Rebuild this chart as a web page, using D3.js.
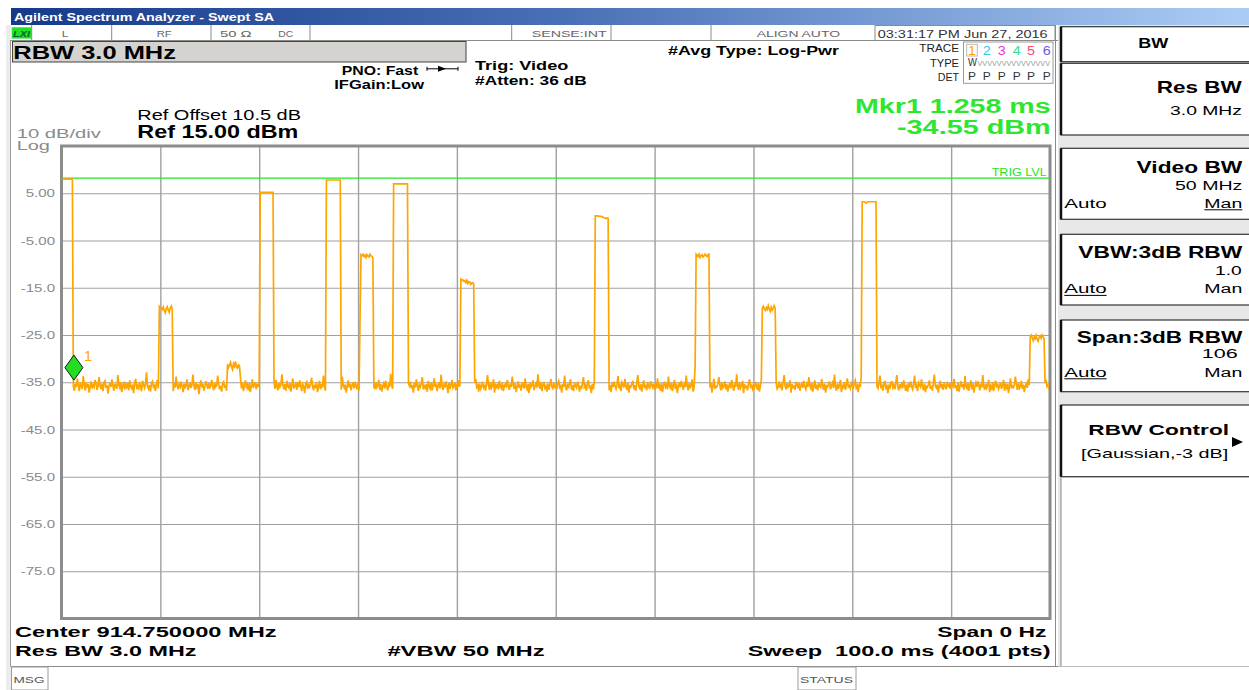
<!DOCTYPE html>
<html><head><meta charset="utf-8">
<script src="https://cdn.jsdelivr.net/npm/d3@7"></script>
<style>
html,body{margin:0;padding:0;background:#fff;overflow:hidden}
svg{display:block}
text{font-family:"Liberation Sans",Arial,sans-serif}
</style></head><body>
<svg id="c" width="1249" height="690"></svg>
<script>
// ---------------- DATA ----------------
const sweepMs = 100;            // 0 Hz span, 100 ms sweep
const samplesPerMs = 10;
const refLevel = 15;            // dBm
const dbPerDiv = 10;
const divisions = 10;
const yTickValues = [5, -5, -15, -25, -35, -45, -55, -65, -75];
const yTickLabels = ["5.00", "-5.00", "-15.0", "-25.0", "-35.0", "-45.0", "-55.0", "-65.0", "-75.0"];
const xGridMs = [10, 20, 30, 40, 50, 60, 70, 80, 90];
const trigLevel = 8.2;
const markerTime = 1.258;       // ms
const markerLevel = -34.55;     // dBm

// bursts: start / end (ms) and the tops read along each burst (dBm)
const pulseStartMs = [0, 9.9, 16.8, 20.1, 26.8, 30.2, 33.6, 40.4, 54.0, 64.1, 70.9, 81.0, 98.0];
const pulseEndMs   = [1.1, 11.2, 18.0, 21.4, 28.2, 31.5, 35.0, 41.7, 55.3, 65.5, 72.2, 82.4, 99.4];
const pulseTops = [
  [8.0],
  [-19.0,-19.3,-19.2,-19.6,-19.1,-19.8,-20.3,-19.4,-19.0,-19.7,-20.2,-19.3,-18.9,-19.5],
  [-31.2,-31.9,-31.4,-30.8,-31.7,-32.3,-31.1,-31.6,-30.6,-31.8,-32.0,-31.3,-31.5],
  [5.2],
  [7.8],
  [-21.3,-8.0,-8.2,-7.9,-8.4,-8.1,-8.6,-8.0,-8.3,-8.5,-7.9,-8.2,-8.4,-8.6],
  [7.0],
  [-13.2,-13.4,-13.3,-13.6,-13.5,-13.9,-13.4,-14.1,-13.7,-13.8,-14.3,-14.0,-13.9,-14.2],
  [0.2,0.2,0.2,0.2,0.1,0.1,0.1,0.0,-0.1,-0.2,-0.3,-0.3,-0.2,-0.3],
  [-31.6,-7.9,-8.1,-8.4,-7.9,-8.6,-8.2,-8.0,-8.5,-8.3,-7.9,-8.1,-8.4,-8.0,-7.9],
  [-19.3,-18.9,-19.4,-19.8,-19.2,-19.6,-18.8,-19.5,-20.0,-19.1,-19.7,-19.3,-18.8,-19.4],
  [3.2,3.2,3.2,3.1,2.9,3.1,3.2,3.2,3.2,3.2,3.2,3.2,3.2,3.2,3.2],
  [-25.3,-25.0,-25.6,-26.2,-25.4,-25.8,-25.1,-25.9,-26.3,-25.5,-25.2,-25.7,-25.0,-25.4,-25.8]
];

// noise floor read along the sweep, one value per 0.1 ms (dBm)
const noiseDbm = [
-35.4,-36.1,-35.8,-36.6,-35.2,-34.9,-36.3,-35.7,-37.0,-35.5,-36.2,-34.6,-35.9,-36.8,-35.3,-36.0,-34.2,-35.6,-36.9,-35.1,-35.8,-36.4,-33.7,-35.5,-36.7,-35.0,-36.1,-35.4,-37.2,-35.9,-34.8,-36.3,-35.6,-36.0,-34.5,-35.2,-36.6,-35.8,-33.9,-35.7,-36.5,-35.3,-36.9,-35.0,-34.7,-36.2,-35.6,-37.4,-35.9,-35.1,
-36.0,-34.4,-35.7,-36.8,-35.3,-35.9,-36.4,-33.5,-35.6,-36.2,-35.0,-37.1,-35.8,-34.9,-36.5,-35.4,-36.0,-35.2,-36.7,-34.6,-35.9,-36.3,-35.5,-37.3,-35.1,-34.3,-36.1,-35.7,-36.6,-35.0,-35.8,-36.9,-34.7,-35.5,-36.2,-35.3,-32.9,-35.9,-36.4,-35.6,-37.0,-35.2,-34.8,-36.0,-35.7,-36.8,-35.4,-34.5,-36.3,-35.8,
-35.1,-36.6,-35.9,-34.1,-35.6,-36.2,-35.3,-37.2,-35.8,-35.0,-36.4,-34.7,-35.5,-36.9,-35.2,-36.1,-33.8,-35.7,-36.5,-35.4,-36.0,-34.9,-35.8,-37.1,-35.3,-36.3,-35.6,-34.4,-36.7,-35.9,-35.1,-36.2,-35.5,-33.4,-35.8,-36.6,-35.0,-36.0,-35.4,-37.5,-35.7,-34.6,-36.1,-35.3,-36.8,-35.9,-34.8,-35.5,-36.4,-35.2,
-36.3,-35.6,-34.5,-35.9,-36.7,-35.1,-36.0,-35.7,-33.6,-35.4,-36.5,-35.8,-37.0,-35.2,-34.9,-36.2,-35.5,-36.8,-35.0,-34.3,-35.9,-36.4,-35.6,-37.3,-35.3,-36.1,-34.7,-35.8,-36.6,-35.4,-35.9,-33.9,-36.3,-35.1,-36.9,-35.7,-34.6,-36.0,-35.5,-36.7,-35.2,-37.1,-35.8,-34.4,-36.2,-35.6,-35.0,-36.5,-35.3,-36.0,
-34.8,-35.9,-36.6,-35.4,-33.7,-35.7,-36.3,-35.1,-36.9,-35.6,-34.9,-36.1,-35.3,-37.2,-35.8,-35.0,-36.4,-34.5,-35.9,-36.7,-35.2,-36.0,-35.5,-33.3,-35.7,-36.5,-35.4,-36.8,-34.7,-35.9,-36.2,-35.1,-37.0,-35.6,-34.2,-36.3,-35.8,-35.3,-36.6,-35.0,-36.1,-34.6,-35.7,-36.9,-35.4,-35.9,-37.3,-35.2,-34.9,-36.4,
-35.6,-36.0,-35.3,-34.0,-35.8,-36.7,-35.5,-36.2,-35.1,-37.1,-35.9,-34.7,-36.5,-35.4,-36.1,-33.6,-35.7,-36.8,-35.2,-35.9,-36.3,-34.8,-35.6,-37.0,-35.3,-36.4,-35.0,-34.4,-36.0,-35.8,-36.9,-35.4,-35.1,-36.6,-33.8,-35.7,-36.2,-35.5,-37.2,-35.9,-34.6,-36.1,-35.3,-36.7,-35.6,-35.0,-36.3,-34.9,-35.8,-36.5,
-35.2,-36.8,-35.7,-34.3,-36.0,-35.5,-36.4,-35.1,-37.3,-35.8,-34.8,-36.2,-35.6,-36.9,-35.3,-33.5,-35.9,-36.5,-35.0,-36.1,-35.7,-34.5,-36.6,-35.4,-37.0,-35.8,-35.2,-36.3,-34.7,-35.9,-36.7,-35.5,-36.0,-33.2,-35.6,-36.4,-35.1,-36.9,-35.8,-34.6,-36.2,-35.3,-37.1,-35.7,-35.0,-36.5,-35.4,-34.1,-36.0,-35.9,
-36.6,-35.3,-35.8,-34.9,-36.3,-35.6,-37.2,-35.0,-36.1,-34.4,-35.7,-36.8,-35.5,-36.0,-35.2,-33.9,-36.5,-35.8,-36.2,-35.4,-37.0,-34.7,-35.9,-36.4,-35.1,-36.7,-35.6,-34.2,-36.0,-35.3,-36.9,-35.7,-35.0,-36.3,-33.4,-35.8,-36.6,-35.5,-36.1,-34.8,-35.9,-37.3,-35.2,-36.4,-35.6,-34.5,-36.2,-35.8,-35.1,-36.7,
-35.4,-36.0,-34.6,-35.9,-36.5,-35.2,-37.1,-35.7,-34.8,-36.3,-35.5,-36.9,-35.0,-33.7,-35.8,-36.2,-35.4,-36.7,-35.1,-34.3,-36.0,-35.6,-37.0,-35.3,-36.4,-35.9,-34.9,-36.1,-35.5,-36.8,-35.2,-33.5,-35.7,-36.6,-35.0,-36.2,-35.8,-34.4,-37.2,-35.6,-36.0,-35.3,-36.5,-34.7,-35.9,-36.3,-35.1,-36.9,-35.7,-35.4,
-36.1,-34.5,-35.8,-36.6,-35.3,-36.0,-33.8,-35.6,-36.4,-35.2,-37.1,-35.9,-34.8,-36.2,-35.5,-36.8,-35.0,-35.7,-36.3,-34.2,-35.9,-36.5,-35.4,-37.3,-35.1,-36.0,-35.6,-34.6,-36.7,-35.8,-35.2,-36.1,-33.3,-35.7,-36.4,-35.0,-36.9,-35.5,-34.9,-36.2,-35.8,-37.0,-35.3,-36.6,-35.6,-34.3,-35.9,-36.3,-35.1,-36.0,
-35.7,-36.5,-35.2,-34.7,-36.1,-35.8,-37.2,-35.4,-36.0,-33.6,-35.9,-36.7,-35.3,-36.3,-35.0,-34.4,-36.6,-35.6,-36.9,-35.1,-35.8,-36.2,-34.9,-35.5,-37.0,-35.7,-36.4,-35.2,-33.9,-36.0,-35.6,-36.8,-35.3,-34.6,-36.1,-35.9,-37.3,-35.4,-36.5,-35.0,-34.8,-36.3,-35.7,-36.0,-35.2,-33.4,-35.8,-36.6,-35.5,-36.9,
-35.3,-36.2,-34.5,-35.9,-36.7,-35.6,-37.1,-35.1,-36.0,-34.9,-35.8,-36.4,-35.4,-33.7,-36.3,-35.7,-36.9,-35.0,-35.5,-36.1,-34.3,-35.9,-36.6,-35.2,-37.2,-35.8,-36.0,-35.3,-34.7,-36.5,-35.6,-36.8,-35.1,-33.5,-35.9,-36.3,-35.4,-37.0,-35.7,-34.6,-36.2,-35.5,-36.7,-35.0,-35.8,-36.4,-34.8,-35.6,-36.1,-35.3,
-36.6,-35.4,-35.9,-34.2,-36.3,-35.7,-36.8,-35.2,-37.1,-35.6,-34.9,-36.0,-35.5,-36.5,-33.8,-35.8,-36.2,-35.1,-36.9,-35.6,-34.5,-36.4,-35.3,-37.3,-35.9,-35.0,-36.1,-34.7,-35.7,-36.6,-35.4,-36.0,-33.6,-35.8,-36.7,-35.2,-36.3,-35.5,-34.4,-37.0,-35.9,-36.2,-35.1,-36.8,-35.6,-34.8,-36.0,-35.4,-36.5,-35.7,
-35.0,-36.3,-35.8,-34.6,-36.9,-35.5,-36.1,-35.2,-37.2,-35.7,-34.3,-36.4,-35.9,-36.0,-35.3,-33.9,-35.6,-36.7,-35.1,-36.2,-35.8,-34.8,-36.5,-35.4,-37.0,-35.9,-35.2,-36.3,-34.5,-35.7,-36.8,-35.5,-36.0,-33.3,-35.8,-36.6,-35.0,-36.2,-35.6,-34.7,-37.3,-35.4,-36.1,-35.9,-36.7,-35.3,-34.4,-36.0,-35.7,-36.4,
-35.5,-36.1,-34.9,-35.8,-36.6,-35.2,-37.0,-35.7,-34.5,-36.3,-35.4,-36.8,-35.9,-33.7,-35.6,-36.2,-35.1,-36.9,-35.8,-34.4,-36.0,-35.5,-37.1,-35.3,-36.4,-35.9,-34.8,-36.2,-35.6,-36.7,-35.0,-33.5,-35.8,-36.5,-35.2,-36.0,-35.7,-34.6,-37.2,-35.4,-36.1,-35.9,-36.6,-34.9,-35.5,-36.3,-35.1,-36.8,-35.6,-35.3,
-36.2,-34.7,-35.9,-36.5,-35.4,-36.0,-33.9,-35.7,-36.3,-35.1,-37.0,-35.8,-34.6,-36.4,-35.5,-36.7,-35.2,-35.9,-36.1,-34.3,-35.6,-36.6,-35.3,-37.2,-35.8,-36.0,-35.4,-34.8,-36.5,-35.7,-35.1,-36.2,-33.4,-35.9,-36.8,-35.3,-36.4,-35.6,-34.5,-37.1,-35.8,-36.1,-35.0,-36.6,-35.5,-34.2,-36.0,-35.7,-36.3,-35.2,
-35.8,-36.4,-35.1,-34.6,-36.2,-35.7,-37.1,-35.3,-36.0,-33.8,-35.9,-36.6,-35.4,-36.3,-35.0,-34.5,-36.7,-35.6,-36.9,-35.2,-35.8,-36.1,-34.8,-35.5,-37.0,-35.9,-36.3,-35.1,-33.6,-36.0,-35.7,-36.8,-35.3,-34.7,-36.2,-35.8,-37.3,-35.5,-36.4,-35.0,-34.9,-36.1,-35.6,-36.5,-35.2,-33.5,-35.9,-36.7,-35.4,-36.0,
-35.4,-36.3,-34.6,-35.8,-36.8,-35.5,-37.0,-35.2,-36.1,-34.8,-35.9,-36.5,-35.3,-33.6,-36.2,-35.7,-36.9,-35.1,-35.6,-36.0,-34.4,-35.8,-36.7,-35.3,-37.1,-35.9,-36.1,-35.4,-34.6,-36.4,-35.7,-36.8,-35.0,-33.4,-35.8,-36.2,-35.5,-37.2,-35.6,-34.7,-36.3,-35.4,-36.6,-35.1,-35.9,-36.5,-34.9,-35.7,-36.0,-35.2,
-36.5,-35.3,-35.8,-34.3,-36.2,-35.6,-36.9,-35.1,-37.0,-35.7,-34.8,-36.1,-35.4,-36.6,-33.7,-35.9,-36.3,-35.2,-36.8,-35.5,-34.6,-36.5,-35.2,-37.2,-35.8,-35.1,-36.0,-34.8,-35.6,-36.7,-35.3,-36.1,-33.5,-35.9,-36.6,-35.3,-36.2,-35.6,-34.5,-37.1,-35.8,-36.3,-35.0,-36.9,-35.5,-34.7,-36.1,-35.3,-36.4,-35.8,
-35.1,-36.4,-35.7,-34.5,-36.8,-35.6,-36.2,-35.3,-37.3,-35.8,-34.2,-36.3,-35.8,-36.1,-35.4,-33.8,-35.5,-36.6,-35.2,-36.3,-35.9,-34.7,-36.4,-35.5,-37.1,-35.8,-35.3,-36.2,-34.4,-35.6,-36.9,-35.4,-36.1,-33.4,-35.7,-36.5,-35.1,-36.3,-35.7,-34.6,-37.0,-35.5,-36.2,-35.8,-36.6,-35.2,-34.5,-35.9,-35.6,-36.3,
-35.7,-36.2,-35.4,-34.9,-36.0,-35.6,-36.4,-35.2,-35.9,-36.1
];

// ---------------- DRAW ----------------
const svg = d3.select("#c");
svg.append("rect").attr("width",1249).attr("height",690).attr("fill","#fff");

function T(str, x, y, o = {}) {
  const t = svg.append("text").attr("x", x).attr("y", y).text(str)
    .attr("font-size", o.size || 12)
    .attr("font-weight", o.bold ? "bold" : "normal")
    .attr("fill", o.fill || "#000")
    .attr("text-anchor", o.anchor || "start");
  if (o.family) t.attr("font-family", o.family);
  if (o.italic) t.attr("font-style", "italic");
  if (o.w) t.attr("textLength", o.w).attr("lengthAdjust", "spacingAndGlyphs");
  return t;
}
function L(x1, y1, x2, y2, stroke, sw) {
  svg.append("line").attr("x1",x1).attr("y1",y1).attr("x2",x2).attr("y2",y2)
    .attr("stroke",stroke).attr("stroke-width",sw||1);
}
function R(x, y, w, h, fill, stroke, sw) {
  return svg.append("rect").attr("x",x).attr("y",y).attr("width",w).attr("height",h)
    .attr("fill",fill||"none").attr("stroke",stroke||"none").attr("stroke-width",sw||1);
}

// window frame
R(6, 25, 5, 665, "#ececec");
L(10.5, 40, 10.5, 666, "#9a9a9a", 1);

// title bar
const defs = svg.append("defs");
const grad = defs.append("linearGradient").attr("id","tb").attr("x1","0").attr("x2","1").attr("y1","0").attr("y2","0");
grad.append("stop").attr("offset","0").attr("stop-color","#153a8a");
grad.append("stop").attr("offset","0.45").attr("stop-color","#4a70b6");
grad.append("stop").attr("offset","1").attr("stop-color","#abcdf5");
R(11, 8, 1238, 17, "url(#tb)");
T("Agilent Spectrum Analyzer - Swept SA", 14, 20.7, {size: 11, bold: true, fill: "#fff", w: 260, family: "'DejaVu Sans',sans-serif"});

// status row
R(11, 25, 1047, 15.5, "#fff");
L(11, 40.5, 1058, 40.5, "#8a8a8a", 1);
[31.7, 111.7, 211, 310, 511.7, 611, 711].forEach(x => L(x, 25, x, 40.5, "#8a8a8a", 1));
R(11.7, 27.3, 20, 11.3, "#22e022");
T("LXI", 13, 36.6, {size: 9, bold: true, italic: true, fill: "#063", w: 17});
T("L", 61.7, 36.7, {size: 9.5, fill: "#666", w: 6.6});
T("RF", 156.7, 36.7, {size: 9.5, fill: "#666", w: 15});
T("50 Ω", 220, 36.7, {size: 9.5, fill: "#666", w: 31.7});
T("DC", 278.3, 36.7, {size: 9.5, fill: "#666", w: 15});
T("SENSE:INT", 531.7, 36.7, {size: 9.5, fill: "#666", w: 75});
T("ALIGN AUTO", 756.7, 36.7, {size: 9.5, fill: "#666", w: 83.3});
R(875, 25.5, 180, 15, "#fff", "#8a8a8a", 1);
T("03:31:17 PM Jun 27, 2016", 877.7, 37.7, {size: 11.5, fill: "#333", w: 170});

// RBW banner
R(12.5, 41.5, 453.5, 20.5, "#d5d3d0", "#444", 1);
T("RBW 3.0 MHz", 13.3, 59.3, {size: 17.5, bold: true, w: 162.7});

// acquisition annotations
T("PNO: Fast", 341.7, 75, {size: 12.5, bold: true, w: 76.5});
L(427, 68.8, 458, 68.8, "#000", 1);
svg.append("path").attr("d","M438,65.8 L446,68.8 L438,71.8 Z").attr("fill","#000");
L(427, 66.8, 427, 70.8, "#000", 1); L(458, 66.8, 458, 70.8, "#000", 1);
T("IFGain:Low", 334.3, 89, {size: 12.5, bold: true, w: 89.7});
T("Trig: Video", 475, 69.5, {size: 13.5, bold: true, w: 93.3});
T("#Atten: 36 dB", 475, 85.3, {size: 13.5, bold: true, w: 111.7});
T("#Avg Type: Log-Pwr", 668, 54.6, {size: 13.5, bold: true, w: 171});

// trace table
T("TRACE", 959, 52.3, {size: 10, anchor: "end", fill: "#222", w: 39.7});
T("TYPE", 959, 66.7, {size: 10, anchor: "end", fill: "#222", w: 29});
T("DET", 959, 81, {size: 10, anchor: "end", fill: "#222", w: 21.3});
R(963.5, 42, 89.5, 41.3, "#fff", "#9a9a9a", 1);
R(966.7, 44.3, 10.6, 11.7, "none", "#b8b8b8", 1);
const traceNums = ["1","2","3","4","5","6"];
const traceColors = ["#ffa500","#2ec8ec","#e83ad8","#38dc8c","#ff4a6e","#7a56ea"];
const traceNumX = [972, 986.7, 1001.7, 1016.7, 1031, 1046.7];
traceNums.forEach((n,i) => T(n, traceNumX[i], 55.3, {size: 12.5, fill: traceColors[i], anchor: "middle", w: 8}));
T("W", 968, 66, {size: 10, fill: "#333", w: 9});
T("VVVVVVVVVVVVVVV", 977.5, 65.5, {size: 8, fill: "#9a9a9a", w: 72.5});
traceNums.forEach((n,i) => T("P", traceNumX[i], 80.3, {size: 11, fill: "#333", anchor: "middle", w: 8}));

// marker readout
T("Mkr1 1.258 ms", 1050.7, 112.6, {size: 19.5, bold: true, fill: "#2ee62e", anchor: "end", w: 195.7});
T("-34.55 dBm", 1050.7, 134, {size: 19.5, bold: true, fill: "#2ee62e", anchor: "end", w: 153.7});

// reference
T("Ref Offset 10.5 dB", 137.3, 120, {size: 14, w: 163.7});
T("Ref 15.00 dBm", 137.3, 138.3, {size: 18.5, bold: true, w: 161});
T("10 dB/div", 16.7, 137.7, {size: 12, fill: "#8a8a8a", w: 84.3});
T("Log", 16.7, 150, {size: 12, fill: "#8a8a8a", w: 33.3});

// ---------------- PLOT ----------------
const PL = 61.5, PR = 1050, PT = 146, PB = 618.5;
const x = d3.scaleLinear().domain([0, sweepMs]).range([PL, PR]);
const y = d3.scaleLinear().domain([refLevel - dbPerDiv * divisions, refLevel]).range([PB, PT]);

R(PL, PT, PR - PL, PB - PT, "#fff");

// grid
svg.append("g").attr("transform", `translate(${PL},0)`)
  .call(d3.axisLeft(y).tickValues(yTickValues).tickSize(-(PR - PL)).tickFormat(""))
  .call(g => g.select(".domain").remove())
  .call(g => g.selectAll("line").attr("stroke", "#a0a0a0").attr("stroke-width", 1.2));
svg.append("g").attr("transform", `translate(0,${PB})`)
  .call(d3.axisBottom(x).tickValues(xGridMs).tickSize(-(PB - PT)).tickFormat(""))
  .call(g => g.select(".domain").remove())
  .call(g => g.selectAll("line").attr("stroke", "#a0a0a0").attr("stroke-width", 1.4));

// y labels
const yl = svg.append("g").attr("transform", `translate(${PL},0)`)
  .call(d3.axisLeft(y).tickValues(yTickValues).tickSize(0).tickPadding(6.5)
    .tickFormat((d, i) => yTickLabels[i]));
yl.select(".domain").remove();
yl.selectAll("text").attr("fill", "#8a8a8a").attr("font-size", 11)
  .attr("font-family", "'Liberation Sans',Arial,sans-serif")
  .each(function () { const w = this.getComputedTextLength(); d3.select(this).attr("textLength", w * 1.37).attr("lengthAdjust", "spacingAndGlyphs"); });

// frame
R(PL, PT, PR - PL, PB - PT, "none", "#8c8c8c", 3);

// trigger level
L(PL, y(trigLevel), PR, y(trigLevel), "#22e622", 1.2);
T("TRIG LVL", 1046.7, 175.8, {size: 10.5, fill: "#22e622", anchor: "end", w: 55});

// trace
const nSamples = sweepMs * samplesPerMs + 1;
const trace = noiseDbm.slice(0, nSamples).map((v, i) => {
  let val = v;
  pulseStartMs.forEach((ps, p) => {
    const a = Math.round(ps * samplesPerMs), b = Math.round(pulseEndMs[p] * samplesPerMs);
    if (i >= a && i <= b) { const tops = pulseTops[p]; val = tops[Math.min(i - a, tops.length - 1)]; }
  });
  return { t: i / samplesPerMs, v: val };
});
defs.append("clipPath").attr("id", "pc").append("rect")
  .attr("x", PL + 1).attr("y", PT + 1).attr("width", PR - PL - 2).attr("height", PB - PT - 2);
svg.append("path").datum(trace)
  .attr("clip-path", "url(#pc)")
  .attr("fill", "none").attr("stroke", "#ffa500").attr("stroke-width", 1.7)
  .attr("stroke-linejoin", "miter")
  .attr("d", d3.line().x(d => x(d.t)).y(d => y(d.v)));

// marker
const mx = x(markerTime), my = y(markerLevel);
svg.append("path").attr("d", `M${mx},${my} L${mx - 9},${my - 12.5} L${mx},${my - 25} L${mx + 9},${my - 12.5} Z`)
  .attr("fill", "#22dd22").attr("stroke", "#1a1a1a").attr("stroke-width", 1);
T("1", mx + 10, my - 19, {size: 15, fill: "#ffa500", w: 8});

// bottom annotations
T("Center 914.750000 MHz", 15, 636.7, {size: 14.5, bold: true, w: 261.7});
T("Res BW 3.0 MHz", 15, 655.5, {size: 14.5, bold: true, w: 181.4});
T("#VBW 50 MHz", 387.4, 655.5, {size: 14.5, bold: true, w: 157.3});
T("Span 0 Hz", 1046.5, 636.7, {size: 14.5, bold: true, anchor: "end", w: 109.2});
T("Sweep\u00a0\u00a0100.0 ms (4001 pts)", 1050.5, 655.5, {size: 14.5, bold: true, anchor: "end", w: 302.8});

// message line
L(10.5, 666.5, 1249, 666.5, "#8a8a8a", 1);
R(11.5, 667, 36.5, 23, "#fff", "#9a9a9a", 1);
T("MSG", 13.5, 682.5, {size: 9, fill: "#555", w: 31});
R(798, 667, 58, 23, "#fff", "#9a9a9a", 1);
T("STATUS", 800, 682.5, {size: 9, fill: "#555", w: 53});

// ---------------- SOFTKEY PANEL ----------------
R(1058, 25, 191, 641.5, "#e8e8e8");
L(1055.5, 25, 1055.5, 666, "#8a8a8a", 1);
const keyTops = [26.7, 63.3, 148.3, 234.3, 320, 405];
const keyBots = [61.7, 135, 219.3, 305, 391.7, 476.7];
keyTops.forEach((a, i) => {
  R(1061, a, 190, keyBots[i] - a, "#fff", "#333", 1.2);
  L(1061, a, 1061, keyBots[i], "#111", 2.5);
});
R(1061, 478, 190, 188, "#fff");
L(1061, 478, 1061, 666, "#888", 1);

T("BW", 1153.3, 48.3, {size: 14, bold: true, anchor: "middle", w: 30});
T("Res BW", 1241.7, 93.3, {size: 16.5, bold: true, anchor: "end", w: 85});
T("3.0 MHz", 1242, 115, {size: 13, anchor: "end", w: 72});

T("Video BW", 1242.3, 172.7, {size: 16.5, bold: true, anchor: "end", w: 105.7});
T("50 MHz", 1242.3, 190, {size: 12.5, anchor: "end", w: 67.3});
T("Auto", 1064.3, 207.7, {size: 12.5, w: 42.3});
T("Man", 1242.3, 207.7, {size: 12.5, anchor: "end", w: 38});
L(1204.3, 209.8, 1242.3, 209.8, "#000", 1);

T("VBW:3dB RBW", 1242.3, 258.3, {size: 16.5, bold: true, anchor: "end", w: 164});
T("1.0", 1241.7, 275, {size: 12.5, anchor: "end", w: 26.7});
T("Auto", 1064.3, 293.3, {size: 12.5, w: 42.3});
L(1064.3, 295.4, 1106.6, 295.4, "#000", 1);
T("Man", 1242.3, 293.3, {size: 12.5, anchor: "end", w: 38});

T("Span:3dB RBW", 1242.3, 343.3, {size: 16.5, bold: true, anchor: "end", w: 165.6});
T("106", 1237.7, 358.3, {size: 12.5, anchor: "end", w: 36});
T("Auto", 1064.3, 376.7, {size: 12.5, w: 42.3});
L(1064.3, 378.8, 1106.6, 378.8, "#000", 1);
T("Man", 1242.3, 376.7, {size: 12.5, anchor: "end", w: 38});

T("RBW Control", 1229, 435, {size: 15.5, bold: true, anchor: "end", w: 140.7});
T("[Gaussian,-3 dB]", 1228.3, 458.3, {size: 13, anchor: "end", w: 147.3});
svg.append("path").attr("d", "M1232,437 L1243,442 L1232,447 Z").attr("fill", "#000");
</script>
</body></html>
